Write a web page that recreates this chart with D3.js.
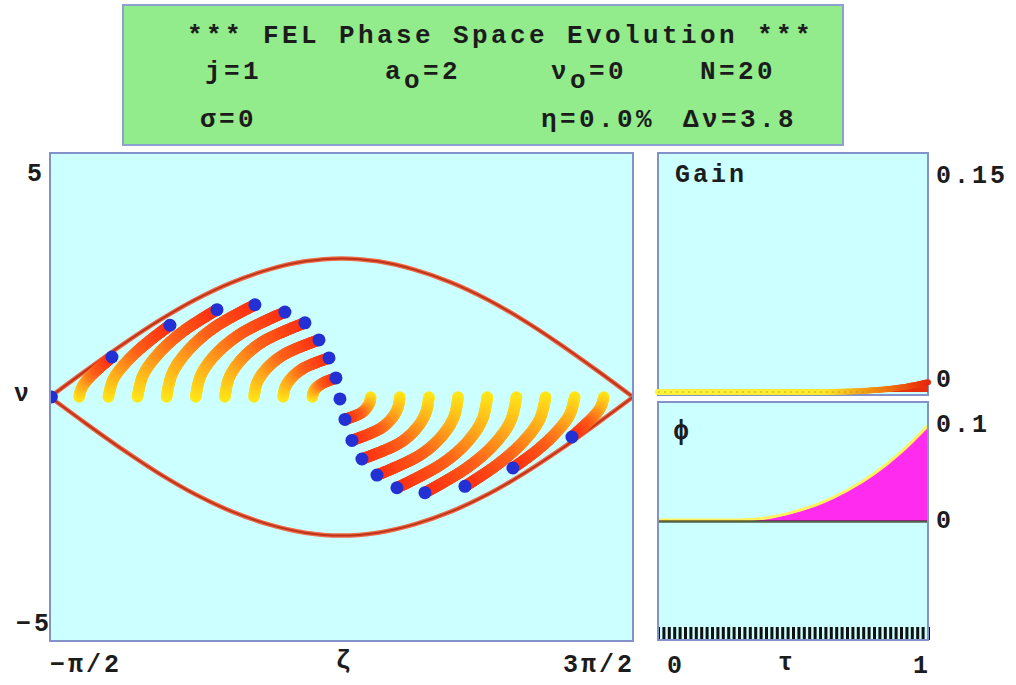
<!DOCTYPE html>
<html>
<head>
<meta charset="utf-8">
<script src="https://cdn.jsdelivr.net/npm/d3@7"></script>
<style>
  body { margin: 0; background: #fff; }
  text { font-family: "Liberation Mono", monospace; font-weight: bold; fill: #1c1c1c; }
</style>
</head>
<body>
<div id="chart"></div>
<script>
// ---- data ----
const titleText = "*** FEL Phase Space Evolution ***";
const zetaLabels = ["−π/2", "ζ", "3π/2"];
const nuLabels = ["5", "ν", "−5"];

// upper branch of the separatrix [zeta, nu]; lower branch is its mirror
const separatrix = [
  [-1.571, 0], [-1.178, 0.55], [-0.785, 1.08], [-0.393, 1.57], [0, 2.00],
  [0.393, 2.35], [0.785, 2.61], [1.178, 2.78], [1.571, 2.84], [1.963, 2.78],
  [2.356, 2.61], [2.749, 2.35], [3.142, 2.00], [3.534, 1.57], [3.927, 1.08],
  [4.320, 0.55], [4.712, 0]
];

// electron paths [zeta, nu] from tau=0 to tau=1 (last point = final position)
const trails = [
  [[-1.556, 0]],
  [[-1.257, 0], [-1.224, 0.205], [-1.141, 0.41], [-1.028, 0.615], [-0.903, 0.82]],
  [[-0.942, 0], [-0.887, 0.368], [-0.739, 0.735], [-0.530, 1.103], [-0.278, 1.47]],
  [[-0.628, 0], [-0.567, 0.45], [-0.396, 0.9], [-0.133, 1.35], [0.229, 1.79]],
  [[-0.314, 0], [-0.255, 0.475], [-0.084, 0.95], [0.200, 1.425], [0.638, 1.89]],
  [[0, 0], [0.053, 0.435], [0.213, 0.87], [0.492, 1.305], [0.961, 1.74]],
  [[0.314, 0], [0.357, 0.38], [0.488, 0.76], [0.728, 1.14], [1.177, 1.52]],
  [[0.628, 0], [0.660, 0.29], [0.765, 0.585], [0.959, 0.88], [1.328, 1.17]],
  [[0.942, 0], [0.965, 0.2], [1.037, 0.4], [1.171, 0.6], [1.436, 0.80]],
  [[1.257, 0], [1.268, 0.098], [1.304, 0.195], [1.378, 0.293], [1.511, 0.39]],
  [[1.554, -0.04]],
  [[1.885, 0], [1.876, -0.11], [1.843, -0.22], [1.780, -0.33], [1.608, -0.46]],
  [[2.199, 0], [2.179, -0.215], [2.116, -0.43], [1.991, -0.645], [1.683, -0.89]],
  [[2.513, 0], [2.482, -0.313], [2.386, -0.625], [2.202, -0.938], [1.791, -1.27]],
  [[2.827, 0], [2.786, -0.395], [2.658, -0.79], [2.421, -1.185], [1.953, -1.60]],
  [[3.142, 0], [3.090, -0.455], [2.933, -0.91], [2.657, -1.365], [2.168, -1.86]],
  [[3.456, 0], [3.395, -0.485], [3.216, -0.97], [2.920, -1.455], [2.470, -1.96]],
  [[3.770, 0], [3.707, -0.458], [3.530, -0.915], [3.259, -1.373], [2.901, -1.83]],
  [[4.084, 0], [4.030, -0.365], [3.883, -0.73], [3.676, -1.095], [3.418, -1.455]],
  [[4.398, 0], [4.366, -0.203], [4.286, -0.405], [4.175, -0.608], [4.054, -0.82]]
];

const tauSteps = [0, 0.1, 0.2, 0.3, 0.4, 0.5, 0.6, 0.7, 0.8, 0.9, 1];
const gainValues = [0, 0, 0, 0, 0, 0, 0, 0.0003, 0.0012, 0.003, 0.0065];
const phaseValues = [0, 0, 0, 0, 0.002, 0.008, 0.017, 0.030, 0.047, 0.069, 0.096];

// ---- drawing ----
const width = 1016, height = 685;
const svg = d3.select("#chart").append("svg")
  .attr("width", width).attr("height", height);

const panelFill = "#ccffff", panelStroke = "#8393c9";

// title box
svg.append("rect").attr("x", 123).attr("y", 5).attr("width", 720).attr("height", 140)
  .attr("fill", "#92ec8b").attr("stroke", "#8ea0cf").attr("stroke-width", 2);

const big = { "font-size": "26px", "letter-spacing": "3.4px" };
function label(x, y, str, opts = {}) {
  const t = svg.append("text").attr("x", x).attr("y", y).text(str)
    .style("font-size", opts.size || "25px")
    .style("letter-spacing", opts.ls || "3px");
  if (opts.anchor) t.attr("text-anchor", opts.anchor);
  return t;
}
function subLabel(x, y, a, b, c) {
  const t = svg.append("text").attr("x", x).attr("y", y)
    .style("font-size", big["font-size"]).style("letter-spacing", big["letter-spacing"]);
  t.append("tspan").text(a);
  t.append("tspan").attr("dy", 9).text(b);
  t.append("tspan").attr("dy", -9).text(c);
}
label(187, 43, titleText, { size: big["font-size"], ls: big["letter-spacing"] });
label(205, 79, "j=1", { size: big["font-size"], ls: big["letter-spacing"] });
subLabel(385, 79, "a", "o", "=2");
subLabel(551, 79, "ν", "o", "=0");
label(700, 79, "N=20", { size: big["font-size"], ls: big["letter-spacing"] });
label(200, 127, "σ=0", { size: big["font-size"], ls: big["letter-spacing"] });
label(541, 127, "η=0.0%", { size: big["font-size"], ls: big["letter-spacing"] });
label(683, 127, "Δν=3.8", { size: big["font-size"], ls: big["letter-spacing"] });

// ---- main phase space panel ----
const x = d3.scaleLinear().domain([-Math.PI / 2, 3 * Math.PI / 2]).range([50, 633]);
const y = d3.scaleLinear().domain([-5, 5]).range([641, 153]);

svg.append("rect").attr("x", x.range()[0]).attr("y", y(5))
  .attr("width", x.range()[1] - x.range()[0]).attr("height", y(-5) - y(5))
  .attr("fill", panelFill);

svg.append("clipPath").attr("id", "mainClip").append("rect")
  .attr("x", x.range()[0]).attr("y", y(5))
  .attr("width", x.range()[1] - x.range()[0]).attr("height", y(-5) - y(5));

const main = svg.append("g").attr("clip-path", "url(#mainClip)");

const sepLine = sign => d3.line()
  .x(d => x(d[0])).y(d => y(sign * d[1]))
  .curve(d3.curveCatmullRom.alpha(0.5));

[1, -1].forEach(sign => {
  main.append("path").attr("d", sepLine(sign)(separatrix))
    .attr("fill", "none").attr("stroke", "#ee6a48").attr("stroke-width", 4.5);
  main.append("path").attr("d", sepLine(sign)(separatrix))
    .attr("fill", "none").attr("stroke", "#bd3418").attr("stroke-width", 2);
});

const trailLine = d3.line().x(d => x(d[0])).y(d => y(d[1]))
  .curve(d3.curveCatmullRom.alpha(0.5));
const trailColor = d3.scaleLinear()
  .domain([0, 0.3, 0.6, 1])
  .range(["#ffe818", "#ffaa1c", "#ff621a", "#ff3012"]);

trails.forEach(pts => {
  if (pts.length < 2) return;
  const g = main.append("g");
  const path = g.append("path").attr("d", trailLine(pts)).attr("fill", "none");
  const node = path.node();
  const L = node.getTotalLength();
  const n = Math.max(2, Math.ceil(L / 1.2));
  const samples = d3.range(n + 1).map(k => {
    const p = node.getPointAtLength(L * k / n);
    return { x: p.x, y: p.y, t: k / n };
  });
  path.remove();
  g.selectAll("circle").data(samples).enter().append("circle")
    .attr("cx", d => d.x).attr("cy", d => d.y).attr("r", 5.8)
    .attr("fill", d => trailColor(d.t));
});

main.selectAll("circle.electron").data(trails).enter().append("circle")
  .attr("class", "electron")
  .attr("cx", d => x(d[d.length - 1][0]))
  .attr("cy", d => y(d[d.length - 1][1]))
  .attr("r", 6.5)
  .attr("fill", "#2230d4");

svg.append("rect").attr("x", x.range()[0]).attr("y", y(5))
  .attr("width", x.range()[1] - x.range()[0]).attr("height", y(-5) - y(5))
  .attr("fill", "none").attr("stroke", panelStroke).attr("stroke-width", 2);

// main axis labels
label(x(-Math.PI / 2), 672, zetaLabels[0]);
label(x(Math.PI / 2) - 6, 668, zetaLabels[1]);
label(x(3 * Math.PI / 2) + 2, 672, zetaLabels[2], { anchor: "end" });
label(27, y(5) + 28, nuLabels[0]);
label(14, y(0) + 4, nuLabels[1]);
label(16, y(-5) - 10, nuLabels[2]);

// ---- gain panel ----
const tx = d3.scaleLinear().domain([0, 1]).range([658, 928]);
const gy = d3.scaleLinear().domain([0, 0.15]).range([392, 165]);

svg.append("rect").attr("x", 658).attr("y", 153).attr("width", 270).attr("height", 242)
  .attr("fill", panelFill).attr("stroke", panelStroke).attr("stroke-width", 2);

const gainData = tauSteps.map((t, i) => ({ t, v: gainValues[i] }));
svg.append("path").datum(gainData)
  .attr("d", d3.area().x(d => tx(d.t)).y0(gy(0)).y1(d => gy(d.v)).curve(d3.curveMonotoneX))
  .attr("fill", "#e8300f");

const gainPath = svg.append("path").datum(gainData)
  .attr("d", d3.line().x(d => tx(d.t)).y(d => gy(d.v)).curve(d3.curveMonotoneX))
  .attr("fill", "none");
{
  const node = gainPath.node();
  const L = node.getTotalLength();
  const n = Math.ceil(L / 1.5);
  const gainColor = d3.scaleLinear().domain([0, 0.62, 0.8, 1])
    .range(["#fff23a", "#ffe82a", "#f09010", "#e82a0c"]);
  const samples = d3.range(n + 1).map(k => {
    const p = node.getPointAtLength(L * k / n);
    return { x: p.x, y: p.y, t: tx.invert(p.x) };
  });
  svg.append("g").selectAll("circle").data(samples).enter().append("circle")
    .attr("cx", d => d.x).attr("cy", d => d.y).attr("r", 3)
    .attr("fill", d => gainColor(d.t));
  gainPath.remove();
}
svg.append("line").attr("x1", tx(0)).attr("x2", tx(0.78)).attr("y1", gy(0)).attr("y2", gy(0))
  .attr("stroke", "#8c8a3a").attr("stroke-width", 1).attr("stroke-dasharray", "2,4")
  .attr("opacity", 0.6);

label(675, 182, "Gain");
label(936, 183, "0.15");
label(936, 387, "0");

// ---- phase panel ----
const py = d3.scaleLinear().domain([-0.121, 0.121]).range([640, 402]);

svg.append("rect").attr("x", 658).attr("y", 402).attr("width", 270).attr("height", 238)
  .attr("fill", panelFill);

const phaseData = tauSteps.map((t, i) => ({ t, v: phaseValues[i] }));
svg.append("path").datum(phaseData)
  .attr("d", d3.area().x(d => tx(d.t)).y0(py(0)).y1(d => py(d.v)).curve(d3.curveMonotoneX))
  .attr("fill", "#ff2cf0");
svg.append("path").datum(phaseData)
  .attr("d", d3.line().x(d => tx(d.t)).y(d => py(d.v) - 1).curve(d3.curveMonotoneX))
  .attr("fill", "none").attr("stroke", "#fff25a").attr("stroke-width", 3);
svg.append("line").attr("x1", tx(0)).attr("x2", tx(1)).attr("y1", py(0) + 0.5).attr("y2", py(0) + 0.5)
  .attr("stroke", "#2c2c14").attr("stroke-width", 2.5).attr("stroke-opacity", 0.75);

// tau tick strip along the bottom
svg.append("g").attr("transform", `translate(0,${py(-0.121)})`)
  .call(d3.axisBottom(tx).ticks(50).tickSize(-13).tickFormat(""))
  .call(g => g.select(".domain").remove())
  .call(g => g.selectAll(".tick line").attr("stroke", "#111").attr("stroke-width", 3));

svg.append("rect").attr("x", 658).attr("y", 402).attr("width", 270).attr("height", 238)
  .attr("fill", "none").attr("stroke", panelStroke).attr("stroke-width", 2);

label(673, 439, "ϕ", { size: "27px" });
label(936, 432, "0.1");
label(936, 528, "0");
label(667, 673, "0");
label(778, 670, "τ");
label(931, 673, "1", { anchor: "end" });
</script>
</body>
</html>
